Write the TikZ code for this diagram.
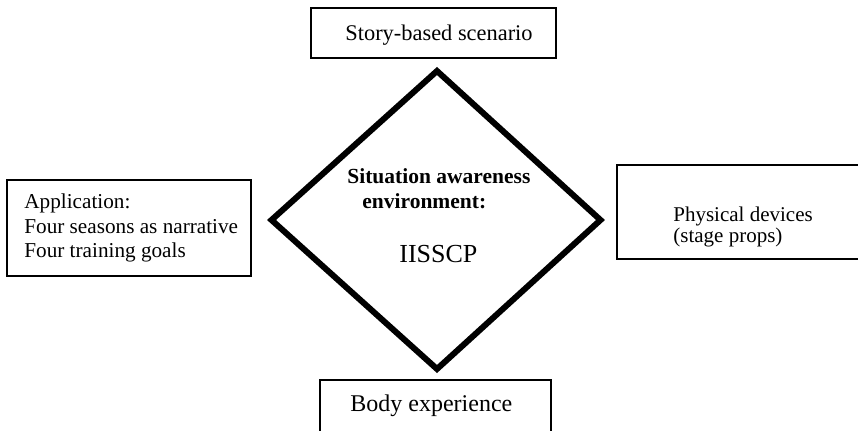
\documentclass[tikz,border=0pt]{standalone}
\usepackage{fontspec}
\setmainfont{Liberation Serif}
\begin{document}
\begin{tikzpicture}[x=0.5pt,y=-0.5pt,
  box/.style={draw=black,line width=1pt,rectangle,inner sep=0pt},
  txt/.style={inner sep=0pt,anchor=base west,font=\fontsize{10.6}{12.5}\selectfont},
  btxt/.style={txt,font=\fontsize{10.75}{12.5}\selectfont\bfseries},
  big/.style={inner sep=0pt,anchor=base west,font=\fontsize{13}{15}\selectfont}]
\useasboundingbox (0,0) rectangle (858,430);
\clip (0,0) rectangle (858,430);

% frames
\node[box,minimum width=122.5pt,minimum height=25pt] (story) at (433.5,33) {};
\node[box,minimum width=122pt,minimum height=48pt] (app) at (129,228) {};
\node[box,minimum width=131.5pt,minimum height=47pt] (devices) at (748.5,212) {};
\node[box,minimum width=115.5pt,minimum height=40pt] (body) at (435.5,420) {};

% central diamond
\coordinate (dtop) at (437,71);
\coordinate (dright) at (600.5,220);
\coordinate (dbottom) at (437,369);
\coordinate (dleft) at (271.5,220);
\draw[line width=3pt,miter limit=10] (dtop) -- (dright) -- (dbottom) -- (dleft) -- cycle;

% labels
\node[txt,font=\fontsize{11.2}{13}\selectfont] (storyt) at (345,40) {Story-based scenario};
\node[txt] (app1) at (24,208) {Application:};
\node[txt] (app2) at (24,233) {Four seasons as narrative};
\node[txt] (app3) at (24,257) {Four training goals};
\node[txt,font=\fontsize{10.5}{12.5}\selectfont] (dev1) at (673,221) {Physical devices};
\node[txt,font=\fontsize{10.5}{12.5}\selectfont] (dev2) at (673,242) {(stage props)};
\node[btxt] (sa1) at (347,183) {Situation awareness};
\node[btxt] (sa2) at (362,208) {environment:};
\node[big] (sa3) at (399,262) {IISSCP};
\node[txt,font=\fontsize{12}{14}\selectfont] (bodyt) at (350,411) {Body experience};
\end{tikzpicture}
\end{document}
